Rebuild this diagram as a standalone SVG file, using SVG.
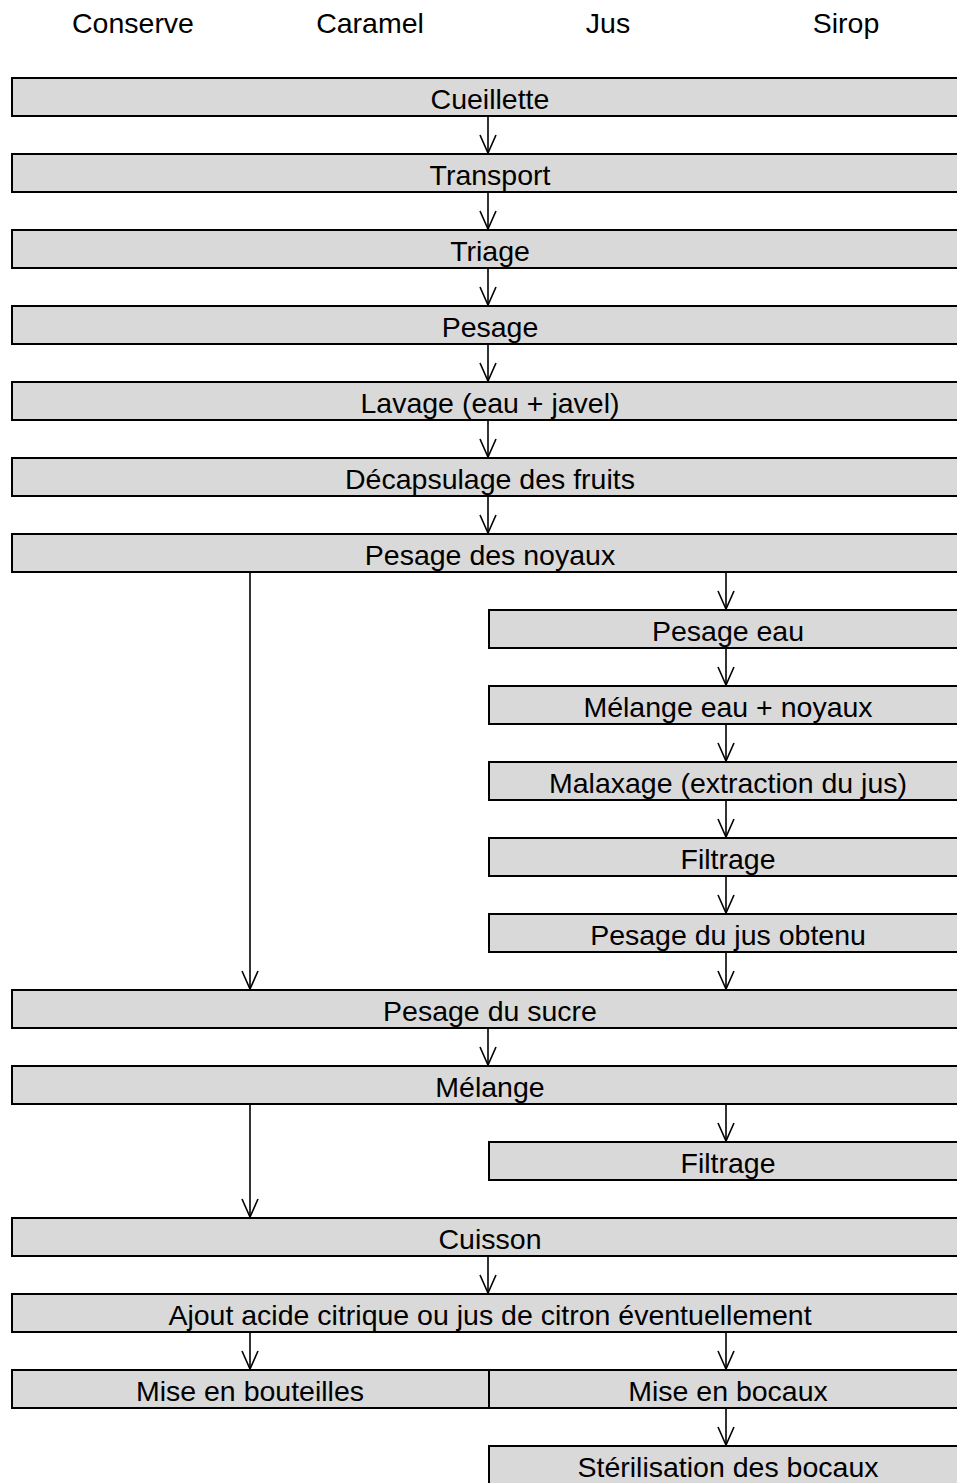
<svg xmlns="http://www.w3.org/2000/svg" width="957" height="1483" viewBox="0 0 957 1483">
<style>
.box{fill:#d9d9d9;stroke:#000;stroke-width:2}
.t{font-family:"Liberation Sans",Arial,sans-serif;font-size:28.5px;fill:#000;text-anchor:middle}
.c{stroke:#000;stroke-width:1.6;fill:none}
</style>
<defs>
<marker id="ah" markerUnits="userSpaceOnUse" markerWidth="24" markerHeight="24" refX="0" refY="0" orient="auto" overflow="visible">
<path d="M-18,-8 L0,0 L-18,8" fill="none" stroke="#000" stroke-width="1.6"/>
</marker>
</defs>
<rect width="957" height="1483" fill="#fff"/>
<g id="headers">
<text class="t" x="133" y="33">Conserve</text>
<text class="t" x="370" y="33">Caramel</text>
<text class="t" x="608" y="33">Jus</text>
<text class="t" x="846" y="33">Sirop</text>
</g>
<g id="n-cueillette"><rect class="box" x="12" y="78" width="956" height="38"/><text class="t" x="490" y="109">Cueillette</text></g>
<g id="n-transport"><rect class="box" x="12" y="154" width="956" height="38"/><text class="t" x="490" y="185">Transport</text></g>
<g id="n-triage"><rect class="box" x="12" y="230" width="956" height="38"/><text class="t" x="490" y="261">Triage</text></g>
<g id="n-pesage"><rect class="box" x="12" y="306" width="956" height="38"/><text class="t" x="490" y="337">Pesage</text></g>
<g id="n-lavage"><rect class="box" x="12" y="382" width="956" height="38"/><text class="t" x="490" y="413">Lavage (eau + javel)</text></g>
<g id="n-decapsulage"><rect class="box" x="12" y="458" width="956" height="38"/><text class="t" x="490" y="489">Décapsulage des fruits</text></g>
<g id="n-pesage-noyaux"><rect class="box" x="12" y="534" width="956" height="38"/><text class="t" x="490" y="565">Pesage des noyaux</text></g>
<g id="n-pesage-eau"><rect class="box" x="489" y="610" width="479" height="38"/><text class="t" x="728" y="641">Pesage eau</text></g>
<g id="n-melange-eau"><rect class="box" x="489" y="686" width="479" height="38"/><text class="t" x="728" y="717">Mélange eau + noyaux</text></g>
<g id="n-malaxage"><rect class="box" x="489" y="762" width="479" height="38"/><text class="t" x="728" y="793">Malaxage (extraction du jus)</text></g>
<g id="n-filtrage1"><rect class="box" x="489" y="838" width="479" height="38"/><text class="t" x="728" y="869">Filtrage</text></g>
<g id="n-pesage-jus"><rect class="box" x="489" y="914" width="479" height="38"/><text class="t" x="728" y="945">Pesage du jus obtenu</text></g>
<g id="n-pesage-sucre"><rect class="box" x="12" y="990" width="956" height="38"/><text class="t" x="490" y="1021">Pesage du sucre</text></g>
<g id="n-melange"><rect class="box" x="12" y="1066" width="956" height="38"/><text class="t" x="490" y="1097">Mélange</text></g>
<g id="n-filtrage2"><rect class="box" x="489" y="1142" width="479" height="38"/><text class="t" x="728" y="1173">Filtrage</text></g>
<g id="n-cuisson"><rect class="box" x="12" y="1218" width="956" height="38"/><text class="t" x="490" y="1249">Cuisson</text></g>
<g id="n-ajout"><rect class="box" x="12" y="1294" width="956" height="38"/><text class="t" x="490" y="1325">Ajout acide citrique ou jus de citron éventuellement</text></g>
<g id="n-bouteilles"><rect class="box" x="12" y="1370" width="477" height="38"/><text class="t" x="250" y="1401">Mise en bouteilles</text></g>
<g id="n-bocaux"><rect class="box" x="489" y="1370" width="479" height="38"/><text class="t" x="728" y="1401">Mise en bocaux</text></g>
<g id="n-sterilisation"><rect class="box" x="489" y="1446" width="479" height="38"/><text class="t" x="728" y="1477">Stérilisation des bocaux</text></g>
<g id="connectors" class="c">
<line x1="488" y1="117" x2="488" y2="153" marker-end="url(#ah)"/>
<line x1="488" y1="193" x2="488" y2="229" marker-end="url(#ah)"/>
<line x1="488" y1="269" x2="488" y2="305" marker-end="url(#ah)"/>
<line x1="488" y1="345" x2="488" y2="381" marker-end="url(#ah)"/>
<line x1="488" y1="421" x2="488" y2="457" marker-end="url(#ah)"/>
<line x1="488" y1="497" x2="488" y2="533" marker-end="url(#ah)"/>
<line x1="250" y1="573" x2="250" y2="989" marker-end="url(#ah)"/>
<line x1="726" y1="573" x2="726" y2="609" marker-end="url(#ah)"/>
<line x1="726" y1="649" x2="726" y2="685" marker-end="url(#ah)"/>
<line x1="726" y1="725" x2="726" y2="761" marker-end="url(#ah)"/>
<line x1="726" y1="801" x2="726" y2="837" marker-end="url(#ah)"/>
<line x1="726" y1="877" x2="726" y2="913" marker-end="url(#ah)"/>
<line x1="726" y1="953" x2="726" y2="989" marker-end="url(#ah)"/>
<line x1="488" y1="1029" x2="488" y2="1065" marker-end="url(#ah)"/>
<line x1="250" y1="1105" x2="250" y2="1217" marker-end="url(#ah)"/>
<line x1="726" y1="1105" x2="726" y2="1141" marker-end="url(#ah)"/>
<line x1="488" y1="1257" x2="488" y2="1293" marker-end="url(#ah)"/>
<line x1="250" y1="1333" x2="250" y2="1369" marker-end="url(#ah)"/>
<line x1="726" y1="1333" x2="726" y2="1369" marker-end="url(#ah)"/>
<line x1="726" y1="1409" x2="726" y2="1445" marker-end="url(#ah)"/>
</g>
</svg>
